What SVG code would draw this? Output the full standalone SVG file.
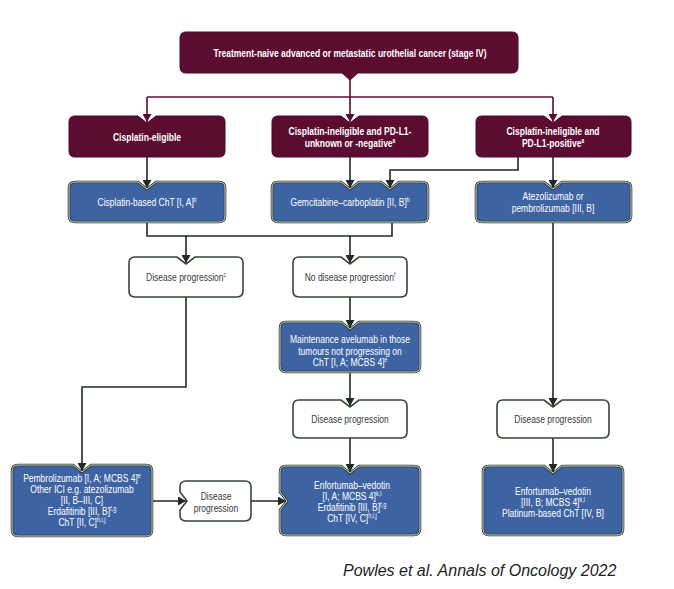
<svg xmlns="http://www.w3.org/2000/svg" width="674" height="589" viewBox="0 0 674 589">
<style>
.bg{fill:#ffffff}
.mar{fill:#5b0c30;stroke:#4a0826;stroke-width:1}
.blue{fill:#3e63a3;stroke:#2b3a30;stroke-width:2.6}
.blue-in{fill:none;stroke:#e3e9e3;stroke-width:0.9}
.wht{fill:#ffffff;stroke:#364536;stroke-width:1.6}
.t{font-family:"Liberation Sans",Arial,sans-serif;font-size:11.5px;text-anchor:middle}
.s{font-size:10px}
.b{font-weight:bold}
.tw{fill:#ffffff}
.td{fill:#3a3a3a}
.sup{font-size:6.5px}
.cm{fill:none;stroke:#5b0c30;stroke-width:1.6}
.cd{fill:none;stroke:#1f2a22;stroke-width:1.6}
.cite{font-family:"Liberation Sans",Arial,sans-serif;font-size:16px;font-style:italic;fill:#222222}
</style>
<defs>
<marker id="am" markerUnits="userSpaceOnUse" markerWidth="9" markerHeight="9" refX="8" refY="4.5" orient="auto"><path d="M0,0 L8,4.5 L0,9 Z" fill="#5b0c30"/></marker>
<marker id="ad" markerUnits="userSpaceOnUse" markerWidth="9" markerHeight="9" refX="8" refY="4.5" orient="auto"><path d="M0,0 L8,4.5 L0,9 Z" fill="#1f2a22"/></marker>
</defs>
<rect class="bg" x="0" y="0" width="674" height="589"/>

<g id="connectors">
<path class="cm" d="M350,79 V97"/>
<path class="cm" d="M147,97 H553"/>
<path class="cm" d="M147,97 V122" marker-end="url(#am)"/>
<path class="cm" d="M350,97 V122" marker-end="url(#am)"/>
<path class="cm" d="M553,97 V122" marker-end="url(#am)"/>
<path class="cd" d="M147,157 V188" marker-end="url(#ad)"/>
<path class="cd" d="M350,157 V188" marker-end="url(#ad)"/>
<path class="cd" d="M518,157 V170 H390 V188" marker-end="url(#ad)"/>
<path class="cd" d="M553,157 V188" marker-end="url(#ad)"/>
<path class="cd" d="M147,222 V236 H392 V222"/>
<path class="cd" d="M186,236 V263" marker-end="url(#ad)"/>
<path class="cd" d="M350,236 V263" marker-end="url(#ad)"/>
<path class="cd" d="M186,297 V387 H82 V471" marker-end="url(#ad)"/>
<path class="cd" d="M350,297 V328" marker-end="url(#ad)"/>
<path class="cd" d="M350,372 V406" marker-end="url(#ad)"/>
<path class="cd" d="M350,438 V472" marker-end="url(#ad)"/>
<path class="cd" d="M553,222 V406" marker-end="url(#ad)"/>
<path class="cd" d="M553,438 V472" marker-end="url(#ad)"/>
<path class="cd" d="M152,501 H186" marker-end="url(#ad)"/>
<path class="cd" d="M251,501 H286" marker-end="url(#ad)"/>
</g>

<g id="n-root">
<path class="mar" d="M186,32 H512 Q518,32 518,38 V67 Q518,73 512,73 H358 L350,80 L342,73 H186 Q180,73 180,67 V38 Q180,32 186,32 Z"/>
<text class="t b tw" transform="translate(350,57) scale(0.74,1)" x="0" y="0">Treatment-naive advanced or metastatic urothelial cancer (stage IV)</text>
</g>

<g id="n-cis-eligible">
<path class="mar" d="M75,116 H138 L147,123 L156,116 H219 Q225,116 225,122 V151 Q225,157 219,157 H75 Q69,157 69,151 V122 Q69,116 75,116 Z"/>
<text class="t b tw" transform="translate(147,140.5) scale(0.74,1)" x="0" y="0">Cisplatin-eligible</text>
</g>

<g id="n-cis-inel-neg">
<path class="mar" d="M278,116 H341 L350,123 L359,116 H422 Q428,116 428,122 V151 Q428,157 422,157 H278 Q272,157 272,151 V122 Q272,116 278,116 Z"/>
<text class="t b tw" transform="translate(350,134.5) scale(0.74,1)"><tspan x="0" y="0">Cisplatin-ineligible and PD-L1-</tspan><tspan x="0" y="12.3">unknown or -negative</tspan><tspan class="sup" dy="-4">a</tspan></text>
</g>

<g id="n-cis-inel-pos">
<path class="mar" d="M482,116 H544 L553,123 L562,116 H625 Q631,116 631,122 V151 Q631,157 625,157 H482 Q476,157 476,151 V122 Q476,116 482,116 Z"/>
<text class="t b tw" transform="translate(553,134.5) scale(0.74,1)"><tspan x="0" y="0">Cisplatin-ineligible and</tspan><tspan x="0" y="12.3">PD-L1-positive</tspan><tspan class="sup" dy="-4">a</tspan></text>
</g>

<g id="n-cis-cht">
<path class="blue" d="M75,182 H138 L147,189 L156,182 H219 Q225,182 225,188 V216 Q225,222 219,222 H75 Q69,222 69,216 V188 Q69,182 75,182 Z"/>
<path class="blue-in" d="M75,182 H138 L147,189 L156,182 H219 Q225,182 225,188 V216 Q225,222 219,222 H75 Q69,222 69,216 V188 Q69,182 75,182 Z"/>
<text class="t tw" transform="translate(147,206) scale(0.74,1)" x="0" y="0">Cisplatin-based ChT [I, A]<tspan class="sup" dy="-4">b</tspan></text>
</g>

<g id="n-gem-carbo">
<path class="blue" d="M278,182 H341 L350,189 L359,182 H381 L390,189 L399,182 H422 Q428,182 428,188 V216 Q428,222 422,222 H278 Q272,222 272,216 V188 Q272,182 278,182 Z"/>
<path class="blue-in" d="M278,182 H341 L350,189 L359,182 H381 L390,189 L399,182 H422 Q428,182 428,188 V216 Q428,222 422,222 H278 Q272,222 272,216 V188 Q272,182 278,182 Z"/>
<text class="t tw" transform="translate(350,206) scale(0.74,1)" x="0" y="0">Gemcitabine–carboplatin [II, B]<tspan class="sup" dy="-4">b</tspan></text>
</g>

<g id="n-atezo-pembro">
<path class="blue" d="M482,182 H544 L553,189 L562,182 H625 Q631,182 631,188 V216 Q631,222 625,222 H482 Q476,222 476,216 V188 Q476,182 482,182 Z"/>
<path class="blue-in" d="M482,182 H544 L553,189 L562,182 H625 Q631,182 631,188 V216 Q631,222 625,222 H482 Q476,222 476,216 V188 Q476,182 482,182 Z"/>
<text class="t tw" transform="translate(553,200) scale(0.74,1)"><tspan x="0" y="0">Atezolizumab or</tspan><tspan x="0" y="12.3">pembrolizumab [III, B]</tspan></text>
</g>

<g id="n-dp-left">
<path class="wht" d="M135,257 H177 L186,264 L195,257 H237 Q243,257 243,263 V291 Q243,297 237,297 H135 Q129,297 129,291 V263 Q129,257 135,257 Z"/>
<text class="t td" transform="translate(186,281) scale(0.74,1)" x="0" y="0">Disease progression<tspan class="sup" dy="-4">c</tspan></text>
</g>

<g id="n-no-dp">
<path class="wht" d="M299,257 H341 L350,264 L359,257 H401 Q407,257 407,263 V291 Q407,297 401,297 H299 Q293,297 293,291 V263 Q293,257 299,257 Z"/>
<text class="t td" transform="translate(350,281) scale(0.74,1)" x="0" y="0">No disease progression<tspan class="sup" dy="-4">f</tspan></text>
</g>

<g id="n-maint-avelumab">
<path class="blue" d="M286,322 H341 L350,329 L359,322 H414 Q420,322 420,328 V366 Q420,372 414,372 H286 Q280,372 280,366 V328 Q280,322 286,322 Z"/>
<path class="blue-in" d="M286,322 H341 L350,329 L359,322 H414 Q420,322 420,328 V366 Q420,372 414,372 H286 Q280,372 280,366 V328 Q280,322 286,322 Z"/>
<text class="t tw" transform="translate(350,343) scale(0.74,1)"><tspan x="0" y="0">Maintenance avelumab in those</tspan><tspan x="0" y="11.7">tumours not progressing on</tspan><tspan x="0" y="23.4">ChT [I, A; MCBS 4]</tspan><tspan class="sup" dy="-4">e</tspan></text>
</g>

<g id="n-dp-mid">
<path class="wht" d="M299,400 H341 L350,407 L359,400 H401 Q407,400 407,406 V432 Q407,438 401,438 H299 Q293,438 293,432 V406 Q293,400 299,400 Z"/>
<text class="t td" transform="translate(350,423) scale(0.74,1)" x="0" y="0">Disease progression</text>
</g>

<g id="n-dp-right">
<path class="wht" d="M503,400 H544 L553,407 L562,400 H603 Q609,400 609,406 V432 Q609,438 603,438 H503 Q497,438 497,432 V406 Q497,400 503,400 Z"/>
<text class="t td" transform="translate(553,423) scale(0.74,1)" x="0" y="0">Disease progression</text>
</g>

<g id="n-second-line-left">
<path class="blue" d="M18,465 H73 L82,472 L91,465 H146 Q152,465 152,471 V530 Q152,536 146,536 H18 Q12,536 12,530 V471 Q12,465 18,465 Z"/>
<path class="blue-in" d="M18,465 H73 L82,472 L91,465 H146 Q152,465 152,471 V530 Q152,536 146,536 H18 Q12,536 12,530 V471 Q12,465 18,465 Z"/>
<text class="t s tw" transform="translate(82,482) scale(0.85,1)"><tspan x="0" y="0">Pembrolizumab [I, A; MCBS 4]</tspan><tspan class="sup" dy="-4">e</tspan><tspan x="0" y="11">Other ICI e.g. atezolizumab</tspan><tspan x="0" y="22">[II, B–III, C]</tspan><tspan x="0" y="33">Erdafitinib [III, B]</tspan><tspan class="sup" dy="-4">f,g</tspan><tspan x="0" y="44">ChT [II, C]</tspan><tspan class="sup" dy="-4">h,i,j</tspan></text>
</g>

<g id="n-dp-small">
<path class="wht" d="M186,481 H245 Q251,481 251,487 V515 Q251,521 245,521 H186 Q180,521 180,515 V510 L187,501 L180,492 V487 Q180,481 186,481 Z"/>
<text class="t td" transform="translate(216,500) scale(0.74,1)"><tspan x="0" y="0">Disease</tspan><tspan x="0" y="12">progression</tspan></text>
</g>

<g id="n-enfortumab-mid">
<path class="blue" d="M286,466 H341 L350,473 L359,466 H414 Q420,466 420,472 V529 Q420,535 414,535 H286 Q280,535 280,529 V510 L287,501 L280,492 V472 Q280,466 286,466 Z"/>
<path class="blue-in" d="M286,466 H341 L350,473 L359,466 H414 Q420,466 420,472 V529 Q420,535 414,535 H286 Q280,535 280,529 V510 L287,501 L280,492 V472 Q280,466 286,466 Z"/>
<text class="t s tw" transform="translate(352,489) scale(0.85,1)"><tspan x="0" y="0">Enfortumab–vedotin</tspan><tspan x="0" y="11">[I, A; MCBS 4]</tspan><tspan class="sup" dy="-4">k,l</tspan><tspan x="0" y="22">Erdafitinib [III, B]</tspan><tspan class="sup" dy="-4">f,g</tspan><tspan x="0" y="33">ChT [IV, C]</tspan><tspan class="sup" dy="-4">h,i,j</tspan></text>
</g>

<g id="n-enfortumab-right">
<path class="blue" d="M489,466 H544 L553,473 L562,466 H617 Q623,466 623,472 V529 Q623,535 617,535 H489 Q483,535 483,529 V472 Q483,466 489,466 Z"/>
<path class="blue-in" d="M489,466 H544 L553,473 L562,466 H617 Q623,466 623,472 V529 Q623,535 617,535 H489 Q483,535 483,529 V472 Q483,466 489,466 Z"/>
<text class="t s tw" transform="translate(553,495) scale(0.85,1)"><tspan x="0" y="0">Enfortumab–vedotin</tspan><tspan x="0" y="11">[III, B; MCBS 4]</tspan><tspan class="sup" dy="-4">k,l</tspan><tspan x="0" y="22">Platinum-based ChT [IV, B]</tspan></text>
</g>

<text class="cite" x="343" y="576">Powles et al. Annals of Oncology 2022</text>
</svg>
